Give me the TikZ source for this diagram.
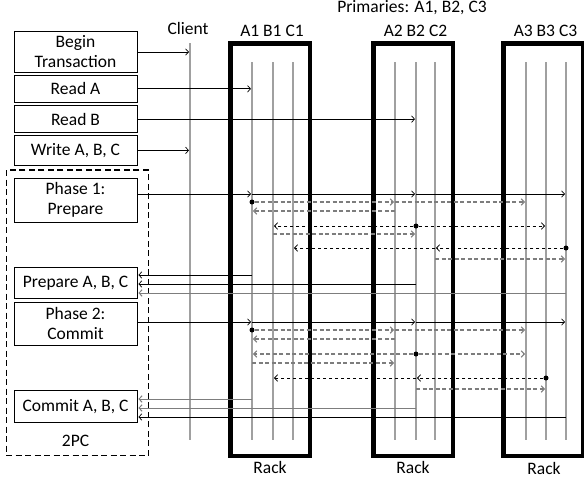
\documentclass[tikz,border=0pt]{standalone}
\usepackage{fontspec}
\setmainfont{Carlito}
\usetikzlibrary{positioning,arrows.meta,calc}
\definecolor{LaneGray}{RGB}{160,160,160}
\definecolor{MsgGray}{RGB}{125,125,125}
\tikzset{
  msg/.style={-{Straight Barb[length=3pt,width=6.5pt]},line width=0.7pt,draw=black,shorten >=1pt},
  greymsg/.style={msg,draw=MsgGray,line width=1pt},
  ackflow/.style={msg,draw=MsgGray,line width=1.1pt,dash pattern=on 4pt off 2.5pt},
  voteflow/.style={msg,line width=0.8pt,dash pattern=on 3.5pt off 2.5pt},
  txbox/.style={draw,line width=0.8pt,minimum width=123pt,inner sep=1pt,
    align=center,font=\fontsize{17.5}{20}\selectfont},
  rackbox/.style={draw,line width=4.5pt,minimum width=79.5pt,minimum height=412.5pt,
    outer sep=0pt,inner sep=0pt},
  lane/.style={draw=LaneGray,line width=2.8pt},
  lbl/.style={font=\fontsize{17.5}{20}\selectfont,inner sep=0pt},
  pcframe/.style={draw,line width=1.3pt,dash pattern=on 6pt off 3.5pt},
  leader/.style={circle,fill=black,inner sep=0pt,minimum size=5pt}
}

\begin{document}
\begin{tikzpicture}[x=1pt,y=-1pt]
  \useasboundingbox (0,0) rectangle (584,480);
  \clip (0,0) rectangle (584,480);

  % racks and their replicas
  \node[rackbox] (rack1) at (270,249.5) {};
  \node[rackbox] (rack2) at (413,249.5) {};
  \node[rackbox] (rack3) at (543,249.5) {};
  \node[lbl,above=6.5pt of rack1.north,xshift=2pt] (grp1) {A1 B1 C1};
  \node[lbl,above=6.5pt of rack2.north,xshift=2.5pt] (grp2) {A2 B2 C2};
  \node[lbl,above=6.5pt of rack3.north,xshift=2.5pt] (grp3) {A3 B3 C3};
  \node[lbl] (primaries) at (412,8) {Primaries: A1, B2, C3};
  \node[lbl,below=5.5pt of rack1.south] (rack1lbl) {Rack};
  \node[lbl,below=5.5pt of rack2.south] (rack2lbl) {Rack};
  \node[lbl,below=6.5pt of rack3.south,xshift=1pt] (rack3lbl) {Rack};

  \foreach \name/\x in {A1/252,B1/273,C1/293,A2/395,B2/416,C2/435,A3/526,B3/546,C3/566}{
    \coordinate (\name t) at (\x,62);
    \coordinate (\name b) at (\x,440);
    \draw[lane] (\name t) -- (\name b);
  }
  \coordinate (clientt) at (190,43);
  \coordinate (clientb) at (190,440);
  \draw[lane] (clientt) -- (clientb);
  \node[lbl,above=8pt of clientt,xshift=-2pt] (client) {Client};

  % transaction steps
  \node[txbox,minimum height=41.5pt] (begin) at (75.5,52) {Begin\\Transaction};
  \node[txbox,minimum height=27.5pt,below=1.5pt of begin] (readA) {Read A};
  \node[txbox,minimum height=26.5pt,below=2.5pt of readA] (readB) {Read B};
  \node[txbox,minimum height=29.5pt,below=2.5pt of readB] (write) {Write A, B, C};
  \node[txbox,minimum height=43.5pt,below=12.5pt of write] (phase1) {Phase 1:\\Prepare};
  \node[txbox,minimum height=31.5pt,below=44.5pt of phase1] (prepare) {Prepare A, B, C};
  \node[txbox,minimum height=43.5pt,below=2.5pt of prepare] (phase2) {Phase 2:\\Commit};
  \node[txbox,minimum height=31.5pt,below=44.5pt of phase2] (commit) {Commit A, B, C};
  \node[lbl,below=12pt of commit] (twopc) {2PC};
  \draw[pcframe] ($(phase1.north west)+(-7,-8)$) rectangle ($(commit.east |- twopc.south)+(11,9)$);

  \draw[msg] (begin.east) -- (begin.east -| clientt);
  \draw[msg] (readA.east) -- (readA.east -| A1t);
  \draw[msg] (readB.east) -- (readB.east -| B2t);
  \draw[msg] (write.east) -- (write.east -| clientt);

  % rows of the two phases
  \foreach \row/\y in {pA/194,d1/202,d2/211,d3/226,d4/234,d5/248,d6/259,r1/275,r2/284,r3/293,
                      cA/322,e1/330,e2/339,e3/354,e4/363,e5/378,e6/389,s1/399,s2/408,s3/417}
    \coordinate (\row) at (0,\y);

  % phase 1
  \draw[msg] (pA -| phase1.east) -- (pA -| A1t);
  \draw[msg] (pA -| A1t) -- (pA -| B2t);
  \draw[msg] (pA -| B2t) -- (pA -| C3t);
  \node[leader] (ldA1) at (d1 -| A1t) {};
  \draw[ackflow] (ldA1) -- (d1 -| A2t);
  \draw[ackflow] (d1 -| A2t) -- (d1 -| A3t);
  \draw[ackflow] (d2 -| A2t) -- (d2 -| A1t);
  \node[leader] (ldB1) at (d3 -| B2t) {};
  \draw[voteflow] (ldB1) -- (d3 -| B1t);
  \draw[voteflow] (ldB1) -- (d3 -| B3t);
  \draw[ackflow] (d4 -| B1t) -- (d4 -| B2t);
  \node[leader] (ldC1) at (d5 -| C3t) {};
  \draw[voteflow] (ldC1) -- (d5 -| C2t);
  \draw[voteflow] (d5 -| C2t) -- (d5 -| C1t);
  \draw[ackflow] (d6 -| C2t) -- (d6 -| C3t);
  \draw[msg] (r1 -| A1t) -- (r1 -| prepare.east);
  \draw[msg] (r2 -| B2t) -- (r2 -| prepare.east);
  \draw[greymsg] (r3 -| C3t) -- (r3 -| prepare.east);

  % phase 2
  \draw[msg] (cA -| phase2.east) -- (cA -| A1t);
  \draw[msg] (cA -| A1t) -- (cA -| B2t);
  \draw[msg] (cA -| B2t) -- (cA -| C3t);
  \node[leader] (ldA2) at (e1 -| A1t) {};
  \draw[ackflow] (ldA2) -- (e1 -| A2t);
  \draw[ackflow] (e1 -| A2t) -- (e1 -| A3t);
  \draw[ackflow] (e2 -| A2t) -- (e2 -| A1t);
  \node[leader] (ldB2) at (e3 -| B2t) {};
  \draw[ackflow] (ldB2) -- (e3 -| A1t);
  \draw[ackflow] (ldB2) -- (e3 -| A3t);
  \draw[ackflow] (e4 -| A1t) -- (e4 -| A2t);
  \node[leader] (ldC2) at (e5 -| B3t) {};
  \draw[voteflow] (ldC2) -- (e5 -| B2t);
  \draw[voteflow] (e5 -| B2t) -- (e5 -| B1t);
  \draw[ackflow] (e6 -| B2t) -- (e6 -| B3t);
  \draw[greymsg] (s1 -| A1t) -- (s1 -| commit.east);
  \draw[greymsg] (s2 -| B2t) -- (s2 -| commit.east);
  \draw[msg] (s3 -| C3t) -- (s3 -| commit.east);
\end{tikzpicture}
\end{document}
